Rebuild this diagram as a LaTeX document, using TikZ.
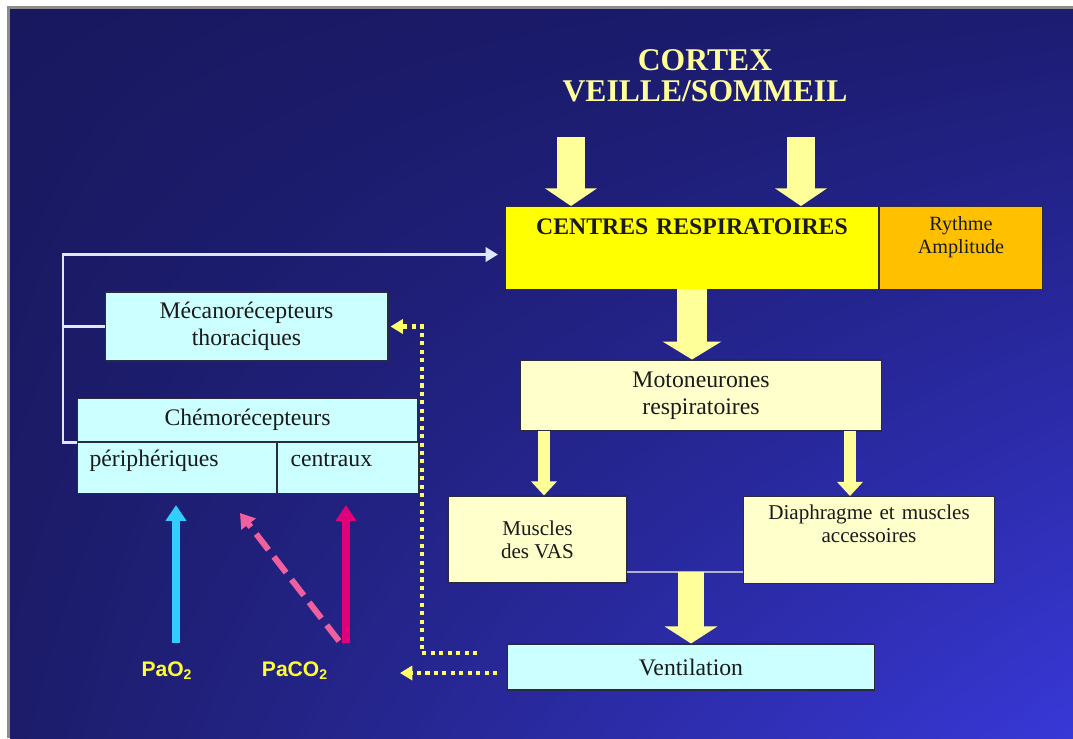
\documentclass[tikz,border=0pt]{standalone}
\usepackage{fontspec}
\setmainfont{Liberation Serif}
\newfontfamily\gasfont{Liberation Sans}
\usetikzlibrary{arrows.meta,shadings}

\definecolor{bgUL}{HTML}{18185F}
\definecolor{bgUR}{HTML}{1C1C72}
\definecolor{bgLL}{HTML}{1C1C6A}
\definecolor{bgLR}{HTML}{3838D8}
\definecolor{frame}{HTML}{8C8C8C}
\definecolor{crfill}{HTML}{FFFF00}
\definecolor{rafill}{HTML}{FFC000}
\definecolor{lightyel}{HTML}{FFFFCC}
\definecolor{lightcyan}{HTML}{CCFFFF}
\definecolor{arrowyel}{HTML}{FFFF99}
\definecolor{textdark}{HTML}{1A1A1A}
\definecolor{boxline}{HTML}{2A2A40}
\definecolor{o2blue}{HTML}{33CCFF}
\definecolor{co2mag}{HTML}{E0007A}
\definecolor{co2pink}{HTML}{F0609E}
\definecolor{gasyel}{HTML}{FFFF33}
\definecolor{dotyel}{HTML}{FFFF66}
\definecolor{wirecol}{HTML}{DDE8FF}
\definecolor{joincol}{HTML}{B0B0D0}

\tikzset{
    box/.style={draw=boxline, line width=0.6pt, inner sep=0pt, align=center,
        text=textdark, font=\fontsize{13.5}{15.4}\selectfont},
    smalltext/.style={font=\fontsize{12}{13}\selectfont},
    cortex/.style={align=center, text=arrowyel,
        font=\bfseries\fontsize{18}{17.4}\selectfont},
    gas/.style={text=gasyel, font=\gasfont\bfseries\fontsize{12}{14}\selectfont},
    bigarrow/.style={draw=arrowyel, line width=16.5pt,
        -{Triangle[width=29pt,length=10pt]}},
    midarrow/.style={draw=arrowyel, line width=6.8pt,
        -{Triangle[width=14.2pt,length=8pt]}},
    wire/.style={draw=wirecol, line width=1.7pt},
    dotline/.style={draw=dotyel, line width=2.3pt, dash pattern=on 2.3pt off 2.5pt},
    dottip/.style={-{Triangle[width=8pt,length=7pt]}},
    gasarrow/.style={line width=4pt, -{Triangle[width=11.4pt,length=9pt]}}
}

\begin{document}
\begin{tikzpicture}[x=0.02cm, y=-0.02cm]
        % background
        \fill[white] (0,0) rectangle (1073,738);
        \fill[frame] (7,6) rectangle (1073,738);
        \shade[upper left=bgUL, upper right=bgUR, lower left=bgLL, lower right=bgLR]
            (10,9) rectangle (1073,738);

        \node[cortex] (CTX) at (705,76) {CORTEX\\VEILLE/SOMMEIL};

        \node[box, fill=crfill, font=\bfseries\fontsize{13.5}{16}\selectfont,
            anchor=north west, text width=7.46cm, text height=0.56cm, text depth=1.10cm]
            (CR) at (505,206) {CENTRES RESPIRATOIRES};
        \node[box, fill=rafill, font=\fontsize{11.5}{13}\selectfont,
            anchor=north west, text width=3.26cm, text height=0.48cm, text depth=1.18cm]
            (RA) at (CR.north east) {Rythme\\Amplitude};

        \node[box, fill=lightyel, minimum width=7.24cm, minimum height=1.42cm]
            (MN) at (701,395.5) {Motoneurones\\respiratoires};
        \node[box, smalltext, fill=lightyel, minimum width=3.58cm, minimum height=1.74cm]
            (MV) at (537.5,539.5) {Muscles\\des VAS};
        \node[box, smalltext, fill=lightyel, anchor=north west, text width=5.02cm,
            text height=0.46cm, text depth=1.28cm]
            (DM) at (743,496) {Diaphragme et muscles\\accessoires};
        \node[box, fill=lightcyan, minimum width=7.36cm, minimum height=0.92cm]
            (VE) at (691,667) {Ventilation};

        \node[box, fill=lightcyan, minimum width=5.66cm, minimum height=1.38cm]
            (MT) at (246.5,326.5) {Mécanorécepteurs\\thoraciques};
        \node[box, fill=lightcyan, anchor=north west, minimum width=6.8cm, minimum height=0.86cm]
            (CH) at (77,398) {Chémorécepteurs};
        \node[box, fill=lightcyan, anchor=north west, align=left, inner xsep=0.24cm,
            text width=3.5cm, text height=0.48cm, text depth=0.54cm]
            (CP) at (CH.south west) {périphériques};
        \node[box, fill=lightcyan, anchor=north west, align=left, inner xsep=0.26cm,
            text width=2.30cm, text height=0.48cm, text depth=0.54cm]
            (CC) at (CP.north east) {centraux};

        \node[gas] (PO) at (167,671) {PaO\textsubscript{2}};
        \node[gas] (PC) at (295,671) {PaCO\textsubscript{2}};

        \coordinate (T1) at (571,137);
        \coordinate (T2) at (801,137);
        \coordinate (CM) at (692,289);
        \coordinate (ML) at (544,431);
        \coordinate (MR) at (850,431);
        \coordinate (JL) at (627,572);
        \coordinate (JR) at (743,572);
        \coordinate (JM) at (691,572);
        \coordinate (POb) at (176,643);
        \coordinate (PCb) at (346,643);
        \coordinate (PCd) at (339,641);
        \coordinate (PDt) at (240,513);
        \coordinate (D1) at (477,653);
        \coordinate (D2) at (422,653);
        \coordinate (D3) at (497,673);
        \coordinate (D4) at (400,673);

        % cortex to centres
        \draw[bigarrow] (T1) -- (T1 |- CR.north);
        \draw[bigarrow] (T2) -- (T2 |- CR.north);
        %
        \draw[bigarrow, line width=17pt, -{Triangle[width=33pt,length=10.2pt]}]
            (CM) -- (CM |- MN.north);
        \draw[midarrow] (ML) -- (ML |- MV.north);
        \draw[midarrow] (MR) -- (MR |- DM.north);
        %
        \draw[joincol, line width=1pt] (JL) -- (JR);
        \draw[bigarrow, line width=14.8pt, -{Triangle[width=29.6pt,length=9.7pt]}]
            (JM) -- (JM |- VE.north);
        % feedback
        \draw[wire, -{Triangle[width=8pt,length=7pt]}, shorten >=0.14cm]
            (CP.north west) -- ++(-14,0) |- ([yshift=-0.13cm]CR.west);
        \draw[wire] (MT.west) -- ++(-42,0);
        %
        \draw[dotline, dottip, shorten >=0.04cm] (D1) -- (D2) |- (MT.east);
        \draw[dotline, dottip] (D3) -- (D4);
        % gases
        \draw[gasarrow, o2blue, shorten >=0.22cm] (POb) -- (POb |- CP.south);
        \draw[gasarrow, co2mag, shorten >=0.22cm] (PCb) -- (PCb |- CC.south);
        \draw[co2pink, line width=3.4pt, dash pattern=on 11.4pt off 5pt,
            -{Triangle[width=10pt,length=8pt]}] (PCd) -- (PDt);
\end{tikzpicture}
\end{document}
